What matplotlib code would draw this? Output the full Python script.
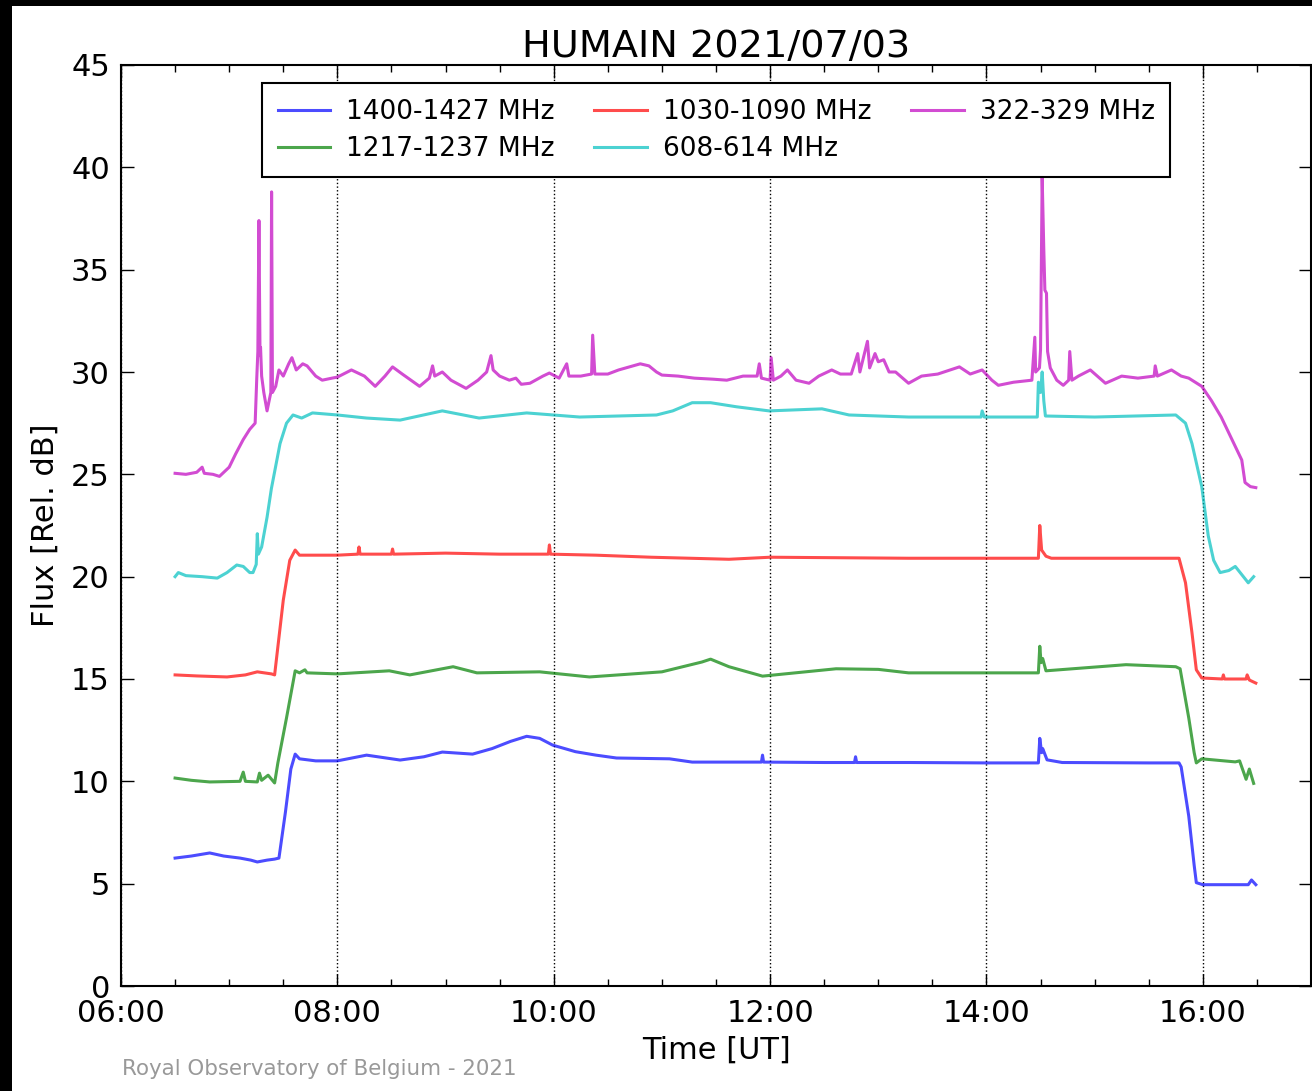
import matplotlib
matplotlib.use("Agg")
import matplotlib.pyplot as plt
from matplotlib.patches import Rectangle
from matplotlib.ticker import MultipleLocator, FuncFormatter

# time in decimal hours UT, flux in relative dB
blue_t = [6.50, 6.65, 6.82, 6.95, 7.10, 7.20, 7.26, 7.35, 7.42, 7.46, 7.52, 7.57, 7.61, 7.65,
          7.80, 8.00, 8.27, 8.58, 8.80, 8.97, 9.25, 9.43, 9.60, 9.75, 9.87, 9.99, 10.20, 10.39,
          10.58, 11.07, 11.28, 11.92, 11.93, 11.94, 12.50, 12.78, 12.79, 12.80, 13.28, 14.00,
          14.48, 14.493, 14.51, 14.52, 14.56, 14.70, 15.50, 15.78, 15.80, 15.87, 15.92, 15.94,
          16.00, 16.20, 16.42, 16.45, 16.49]
blue_v = [6.25, 6.35, 6.50, 6.35, 6.25, 6.15, 6.06, 6.15, 6.20, 6.25, 8.50, 10.6, 11.33, 11.1,
          11.0, 11.0, 11.28, 11.04, 11.2, 11.43, 11.33, 11.6, 11.95, 12.2, 12.1, 11.77, 11.45, 11.28,
          11.14, 11.1, 10.94, 10.94, 11.28, 10.94, 10.92, 10.92, 11.2, 10.92, 10.92, 10.9,
          10.9, 12.1, 11.4, 11.6, 11.05, 10.92, 10.9, 10.9, 10.7, 8.3, 5.9, 5.05,
          4.95, 4.95, 4.95, 5.18, 4.95]

green_t = [6.50, 6.65, 6.82, 7.10, 7.13, 7.15, 7.26, 7.28, 7.30, 7.36, 7.42, 7.45, 7.53, 7.61,
           7.65, 7.70, 7.72, 8.00, 8.48, 8.67, 9.07, 9.29, 9.87, 10.33, 11.00, 11.37, 11.45, 11.62,
           11.93, 12.61, 13.00, 13.28, 14.00, 14.48, 14.493, 14.505, 14.52, 14.55, 15.29, 15.75,
           15.79, 15.87, 15.92, 15.94, 15.99, 16.30, 16.34, 16.40, 16.43, 16.47]
green_v = [10.16, 10.05, 9.97, 10.0, 10.45, 10.0, 9.97, 10.4, 10.05, 10.3, 9.92, 10.9, 13.1, 15.4,
           15.3, 15.45, 15.3, 15.25, 15.4, 15.2, 15.6, 15.3, 15.35, 15.1, 15.35, 15.83, 15.97, 15.6,
           15.14, 15.5, 15.47, 15.3, 15.3, 15.3, 16.6, 15.8, 16.0, 15.4, 15.7, 15.6,
           15.5, 13.1, 11.4, 10.9, 11.1, 10.95, 11.0, 10.1, 10.6, 9.9]

red_t = [6.50, 6.70, 6.98, 7.15, 7.26, 7.39, 7.42, 7.50, 7.56, 7.61, 7.65, 8.00, 8.19, 8.20,
         8.21, 8.50, 8.51, 8.52, 9.00, 9.50, 9.95, 9.96, 9.97, 10.39, 10.90, 11.62, 12.00, 13.28,
         14.48, 14.493, 14.51, 14.55, 14.60, 15.78, 15.84, 15.90, 15.94, 15.99, 16.18, 16.19,
         16.20, 16.40, 16.41, 16.43, 16.49]
red_v = [15.2, 15.15, 15.1, 15.2, 15.35, 15.25, 15.2, 18.85, 20.8, 21.3, 21.05, 21.05, 21.1, 21.45,
         21.1, 21.1, 21.35, 21.1, 21.15, 21.1, 21.1, 21.55, 21.1, 21.05, 20.95, 20.85, 20.95, 20.9,
         20.9, 22.5, 21.3, 21.0, 20.9, 20.9, 19.7, 17.25, 15.45, 15.05, 15.0, 15.2,
         15.0, 15.0, 15.2, 14.95, 14.8]

cyan_t = [6.50, 6.53, 6.60, 6.75, 6.89, 6.98, 7.07, 7.13, 7.19, 7.22, 7.25, 7.26, 7.27, 7.30,
          7.35, 7.39, 7.47, 7.53, 7.59, 7.67, 7.77, 8.00, 8.27, 8.58, 8.97, 9.31, 9.75, 10.24,
          10.95, 11.10, 11.28, 11.45, 11.69, 11.99, 12.48, 12.73, 13.28, 13.95, 13.96, 13.98,
          14.47, 14.48, 14.50, 14.515, 14.53, 14.545, 15.00, 15.75, 15.84, 15.90, 15.99, 16.05,
          16.10, 16.16, 16.24, 16.30, 16.36, 16.42, 16.47]
cyan_v = [20.0, 20.2, 20.05, 20.0, 19.93, 20.2, 20.57, 20.5, 20.2, 20.2, 20.6, 22.1, 21.1, 21.45,
          22.9, 24.3, 26.5, 27.5, 27.9, 27.75, 28.0, 27.9, 27.75, 27.65, 28.1, 27.75, 28.0, 27.8,
          27.9, 28.1, 28.5, 28.5, 28.3, 28.1, 28.2, 27.9, 27.8, 27.8, 28.1, 27.8,
          27.8, 29.5, 29.0, 30.0, 28.6, 27.85, 27.8, 27.9, 27.5, 26.5, 24.4, 22.0,
          20.8, 20.2, 20.3, 20.5, 20.1, 19.7, 20.0]

magenta_t = [6.50, 6.60, 6.70, 6.75, 6.77, 6.85, 6.91, 6.95, 7.00, 7.06, 7.13, 7.19, 7.24, 7.255,
             7.265, 7.275, 7.28, 7.285, 7.29, 7.30, 7.32, 7.35, 7.37, 7.385, 7.392, 7.40, 7.43, 7.46,
             7.50, 7.55, 7.58, 7.62, 7.68, 7.72, 7.80, 7.86, 7.95, 8.00, 8.13, 8.25, 8.35, 8.44,
             8.51, 8.60, 8.76, 8.85, 8.88, 8.90, 8.97, 9.05, 9.19, 9.30, 9.38, 9.42, 9.44, 9.50,
             9.59, 9.65, 9.70, 9.78, 9.90, 9.96, 10.05, 10.12, 10.14, 10.25, 10.35, 10.36, 10.38, 10.50,
             10.60, 10.70, 10.80, 10.88, 10.95, 11.00, 11.15, 11.30, 11.47, 11.60, 11.75, 11.88, 11.90, 11.92,
             12.00, 12.01, 12.03, 12.10, 12.16, 12.24, 12.36, 12.45, 12.57, 12.65, 12.75, 12.81, 12.83, 12.90,
             12.92, 12.97, 13.00, 13.05, 13.10, 13.16, 13.28, 13.40, 13.55, 13.75, 13.85, 13.96, 14.05, 14.11,
             14.25, 14.42, 14.447, 14.455, 14.49, 14.50, 14.515, 14.53, 14.54, 14.555, 14.565, 14.59, 14.65, 14.71,
             14.76, 14.77, 14.79, 14.85, 14.96, 15.10, 15.25, 15.40, 15.55, 15.56, 15.58, 15.71, 15.80, 15.87,
             15.99, 16.08, 16.17, 16.27, 16.36, 16.39, 16.44, 16.49]
magenta_v = [25.05, 25.0, 25.1, 25.35, 25.05, 25.0, 24.9, 25.1, 25.35, 26.0, 26.7, 27.2, 27.5, 29.7,
             31.0, 37.4, 34.0, 30.8, 31.2, 29.8, 29.0, 28.1, 28.6, 29.0, 38.8, 29.0, 29.3, 30.1,
             29.8, 30.4, 30.7, 30.1, 30.4, 30.3, 29.8, 29.6, 29.7, 29.75, 30.1, 29.8, 29.3, 29.8,
             30.25, 29.9, 29.3, 29.7, 30.3, 29.8, 30.0, 29.6, 29.2, 29.6, 30.0, 30.8, 30.1, 29.8,
             29.6, 29.7, 29.4, 29.45, 29.8, 29.95, 29.7, 30.4, 29.8, 29.8, 29.9, 31.8, 29.9, 29.9,
             30.1, 30.25, 30.4, 30.3, 30.0, 29.85, 29.8, 29.7, 29.65, 29.6, 29.8, 29.8, 30.4, 29.7,
             29.6, 30.7, 29.6, 29.8, 30.1, 29.6, 29.45, 29.8, 30.1, 29.9, 29.9, 30.9, 30.0, 31.5,
             30.2, 30.9, 30.5, 30.6, 30.0, 30.0, 29.45, 29.8, 29.9, 30.25, 29.9, 30.1, 29.6, 29.35,
             29.5, 29.6, 31.7, 30.0, 30.2, 31.1, 39.5, 36.0, 34.0, 33.85, 31.0, 30.2, 29.6, 29.35,
             29.6, 31.0, 29.6, 29.8, 30.1, 29.45, 29.8, 29.7, 29.8, 30.3, 29.8, 30.1, 29.8, 29.7,
             29.3, 28.6, 27.8, 26.7, 25.7, 24.6, 24.4, 24.35]

labels = ["1400-1427 MHz", "1217-1237 MHz", "1030-1090 MHz", "608-614 MHz", "322-329 MHz"]
colors = ["b", "g", "r", "c", "m"]

fig = plt.figure(figsize=(13.12, 10.91), dpi=100)
fig.patch.set_facecolor("white")
# black strips along the top and left edge of the original screenshot
fig.patches.append(Rectangle((0, 1 - 6 / 1091), 1, 6 / 1091, transform=fig.transFigure,
                             facecolor="k", edgecolor="none"))
fig.patches.append(Rectangle((0, 0), 12 / 1312, 1, transform=fig.transFigure,
                             facecolor="k", edgecolor="none"))

ax = fig.add_axes([121 / 1312, 1 - 986 / 1091, 1190 / 1312, 921 / 1091])

series = [(blue_t, blue_v), (green_t, green_v), (red_t, red_v), (cyan_t, cyan_v), (magenta_t, magenta_v)]
for (t, v), lab, col in zip(series, labels, colors):
    ax.plot(t, v, color=col, alpha=0.7, linewidth=2.2, label=lab)

ax.set_xlim(6, 17)
ax.set_ylim(0, 45)
ax.xaxis.set_major_locator(MultipleLocator(2))
ax.xaxis.set_minor_locator(MultipleLocator(0.5))
ax.xaxis.set_major_formatter(FuncFormatter(lambda x, pos: "%02d:00" % int(round(x))))
ax.yaxis.set_major_locator(MultipleLocator(5))
ax.tick_params(which="both", direction="in", top=True, right=True, labelsize=22)
ax.tick_params(axis="x", pad=9)
ax.tick_params(axis="y", pad=8)
ax.tick_params(which="major", length=9, width=1)
ax.tick_params(which="minor", length=5, width=1)
ax.xaxis.grid(True, which="major", linestyle=":", color="k", linewidth=1)
for s in ax.spines.values():
    s.set_linewidth(1.5)

ax.set_title("HUMAIN 2021/07/03", fontsize=27.5, pad=6)
ax.set_xlabel("Time [UT]", fontsize=22, labelpad=6)
ax.set_ylabel("Flux [Rel. dB]", fontsize=22, labelpad=8)

leg = ax.legend(loc="upper center", ncol=3, fontsize=19, fancybox=False, framealpha=1,
                edgecolor="k", handlelength=2.0, handletextpad=0.6, columnspacing=1.5,
                labelspacing=0.42, borderpad=0.58, borderaxespad=0.7)
leg.get_frame().set_linewidth(1.5)

fig.text(122 / 1312, 1 - 1069 / 1091, "Royal Observatory of Belgium - 2021", fontsize=15.4,
         color="#999999", va="center", ha="left")

fig.savefig("out.png", dpi=100)
